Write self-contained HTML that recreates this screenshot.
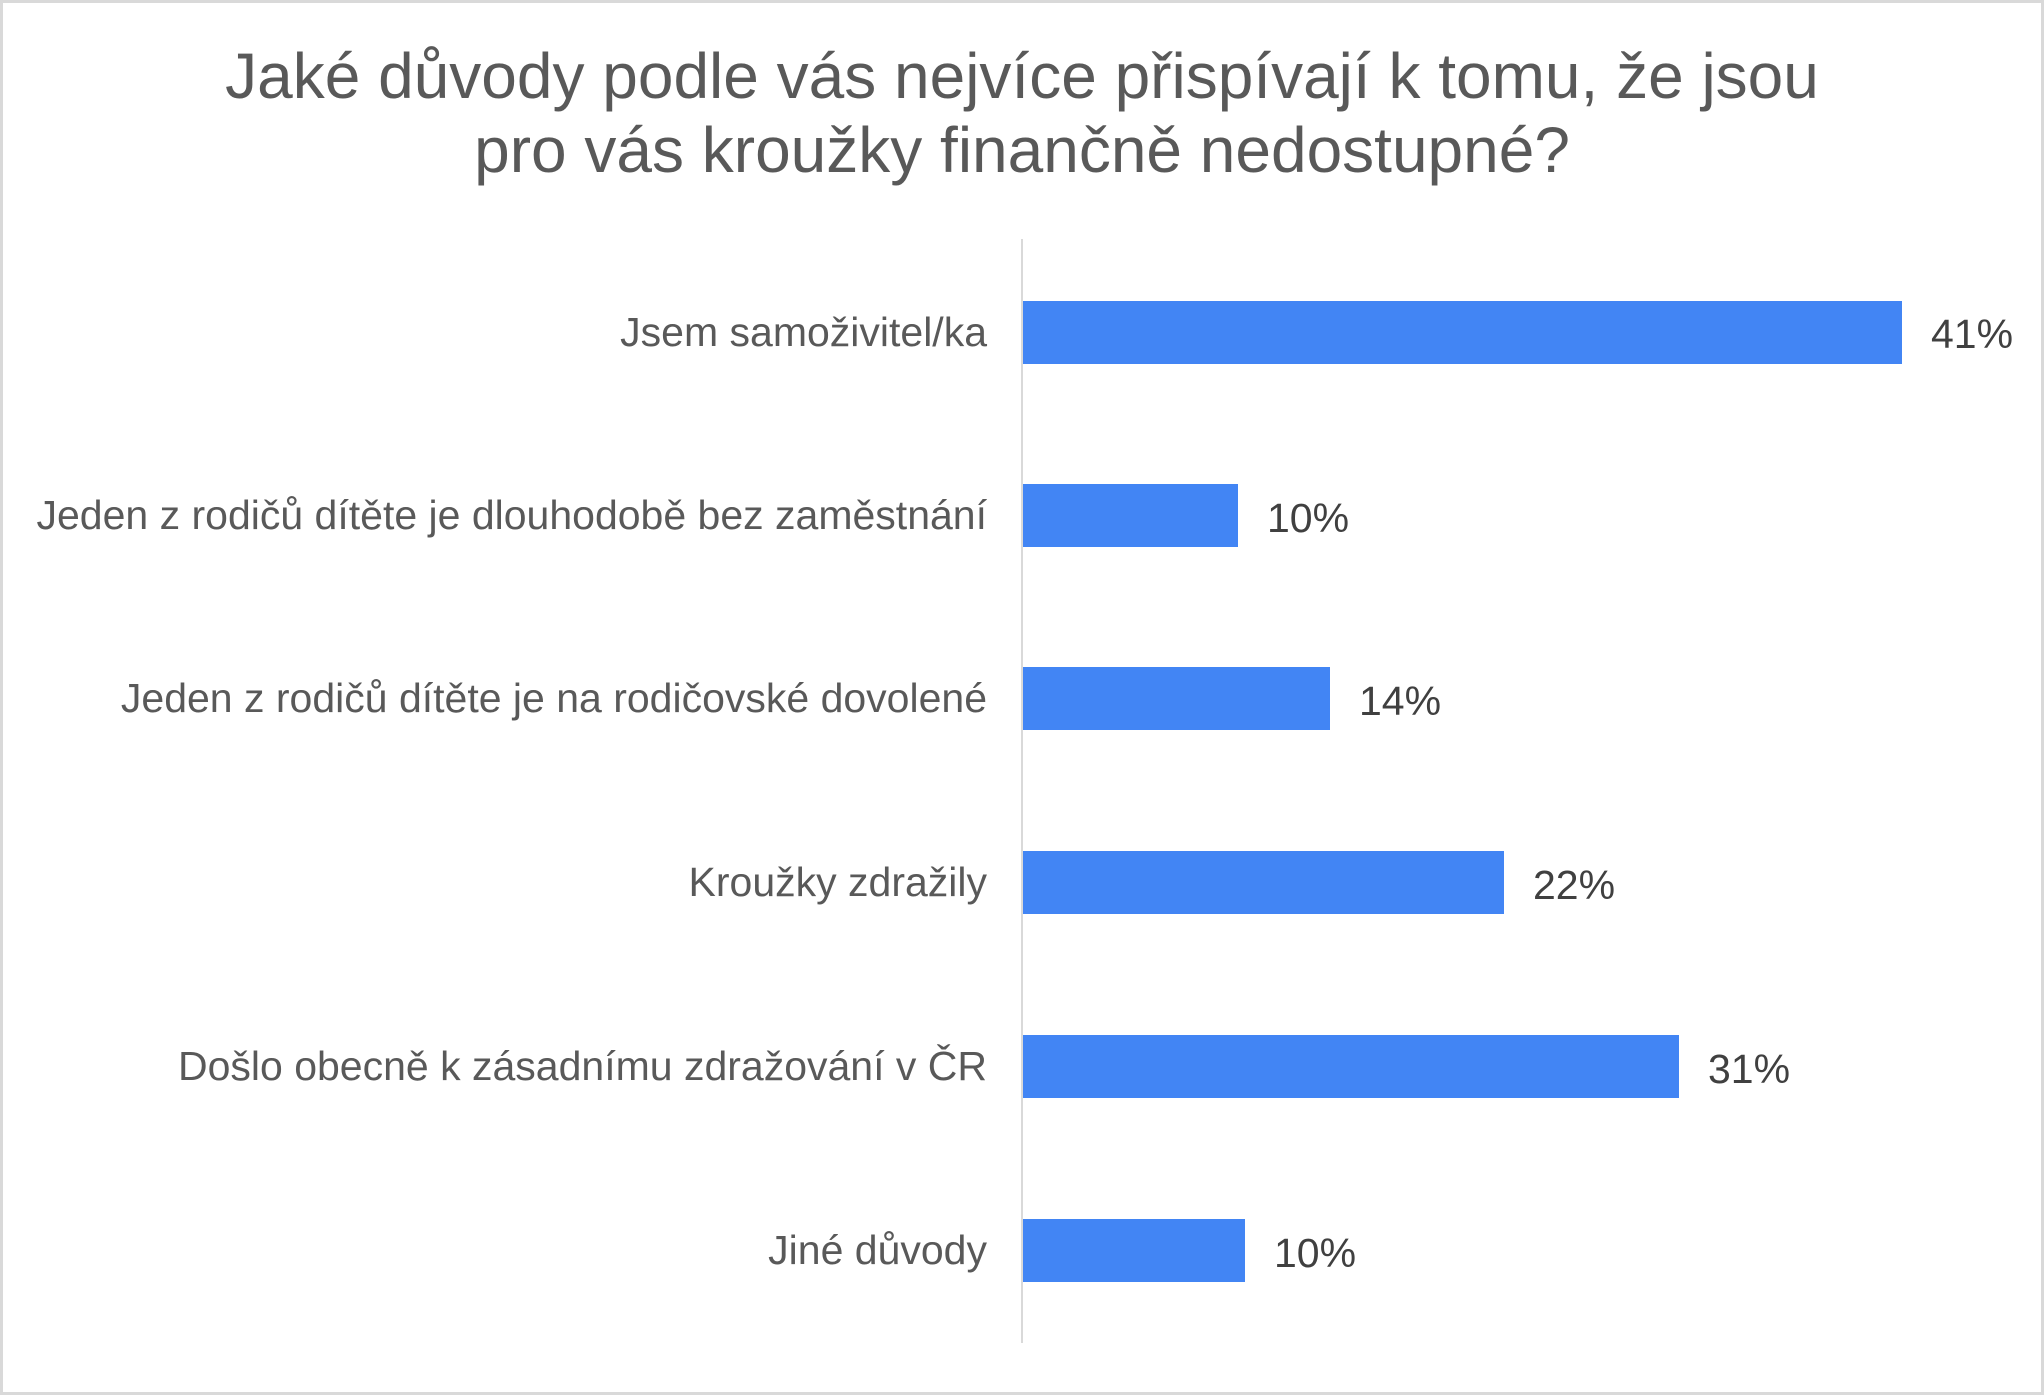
<!DOCTYPE html>
<html><head><meta charset="utf-8"><style>
html,body{margin:0;padding:0;background:#fff;}
svg{display:block;}
text{font-family:"Liberation Sans",Arial,sans-serif;}
</style></head><body>
<svg width="2044" height="1395" viewBox="0 0 2044 1395" xmlns="http://www.w3.org/2000/svg">
<rect x="1.5" y="1.5" width="2041" height="1392" fill="#fff" stroke="#d9d9d9" stroke-width="3"/>
<text x="1022" y="98" text-anchor="middle" font-size="64" fill="#595959">Jaké důvody podle vás nejvíce přispívají k tomu, že jsou</text>
<text x="1022" y="172" text-anchor="middle" font-size="64" fill="#595959">pro vás kroužky finančně nedostupné?</text>
<line x1="1022" y1="239" x2="1022" y2="1343" stroke="#d9d9d9" stroke-width="2"/>
<g fill="#4285f4">
<rect x="1023" y="301" width="879" height="63"/>
<rect x="1023" y="484" width="215" height="63"/>
<rect x="1023" y="667" width="307" height="63"/>
<rect x="1023" y="851" width="481" height="63"/>
<rect x="1023" y="1035" width="656" height="63"/>
<rect x="1023" y="1219" width="222" height="63"/>
</g>
<g font-size="41" fill="#595959" text-anchor="end">
<text x="987" y="346">Jsem samoživitel/ka</text>
<text x="987" y="529">Jeden z rodičů dítěte je dlouhodobě bez zaměstnání</text>
<text x="987" y="712">Jeden z rodičů dítěte je na rodičovské dovolené</text>
<text x="987" y="896">Kroužky zdražily</text>
<text x="987" y="1080">Došlo obecně k zásadnímu zdražování v ČR</text>
<text x="987" y="1264">Jiné důvody</text>
</g>
<g font-size="41" fill="#404040">
<text x="1931" y="348">41%</text>
<text x="1267" y="532">10%</text>
<text x="1359" y="715">14%</text>
<text x="1533" y="899">22%</text>
<text x="1708" y="1083">31%</text>
<text x="1274" y="1267">10%</text>
</g>
</svg>
</body></html>
